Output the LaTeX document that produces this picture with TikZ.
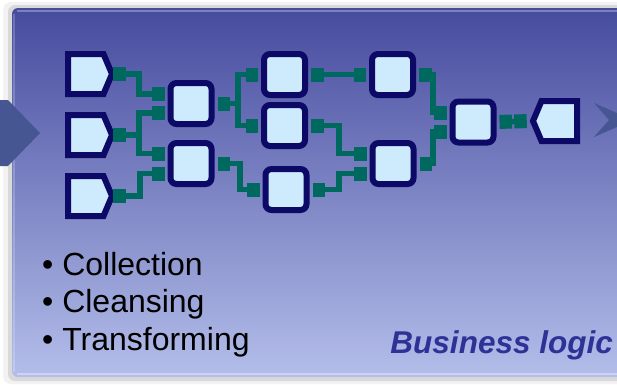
\documentclass[tikz,border=0pt]{standalone}
\usepackage{fontspec}
\setmainfont{Liberation Sans}
\usepackage{xcolor}
\usetikzlibrary{arrows.meta,shapes.symbols,positioning}
\definecolor{navy}{RGB}{12,10,102}
\definecolor{cellfill}{RGB}{205,235,252}
\definecolor{wiregreen}{RGB}{0,105,95}
\definecolor{paneltop}{RGB}{70,75,158}
\definecolor{panelmid}{RGB}{118,126,192}
\definecolor{panelbot}{RGB}{180,190,234}
\definecolor{chevron}{RGB}{70,86,146}
\definecolor{logicblue}{RGB}{46,50,150}

\begin{document}
\begin{tikzpicture}[x=1pt,y=-1pt,node distance=61pt,
  cell/.style={draw=navy,fill=cellfill,line width=6pt,rounded corners=6pt,
    minimum width=41pt,minimum height=41pt,inner sep=0pt},
  port/.style={signal,draw=navy,fill=cellfill,line width=6pt,signal pointer angle=134,
    minimum width=44pt,minimum height=40pt,inner sep=0pt},
  source/.style={port,signal to=east},
  sink/.style={port,signal to=west},
  wire/.style={draw=wiregreen,line width=5.5pt,
    {Square[length=12.5pt,width=14pt]}-{Square[length=12.5pt,width=14pt]},
    shorten <=3pt,shorten >=3pt},
  feed/.style={wire,shorten <=-2pt},
  bullet/.style={anchor=base west,inner sep=0pt,font=\fontsize{32}{38}\selectfont}]

  \clip (0,0) rectangle (617,384);
  \fill[white] (0,0) rectangle (617,384);
  \fill[gray!10,rounded corners=8pt] (3,2) rectangle (650,384);
  \fill[gray!30,rounded corners=7pt] (8,5) rectangle (650,381);
  \shade[top color=paneltop,middle color=panelmid,bottom color=panelbot,rounded corners=6pt]
    (12,8) rectangle (650,377);
  \draw[white,opacity=.3,line width=2pt] (17,11) -- (650,11);
  \draw[white,opacity=.2,line width=2pt] (14,14) -- (14,372);
  \draw[white,opacity=.35,line width=2pt] (17,374) -- (650,374);

  \fill[chevron] (0,100) -- (8,100) -- (40,133) -- (8,166) -- (0,166) -- cycle;
  \fill[chevron] (594,103) -- (633,120) -- (594,137) -- (609,120) -- cycle;

  \node[source,anchor=west] (in1) at (65,74) {};
  \node[source]             (in2) [below of=in1] {};
  \node[source]             (in3) [below of=in2] {};

  \node[cell] (b1) at (191,103.5) {};
  \node[cell] (b2) [below of=b1,node distance=60pt] {};
  \node[cell] (b3) at (284.5,74.5) {};
  \node[cell] (b4) [below of=b3,node distance=51pt] {};
  \node[cell] (b5) at (286,189.5) {};
  \node[cell] (b6) [right of=b3,node distance=108pt] {};
  \node[cell] (b7) at (393,163.5) {};
  \node[cell] (b8) at (473,122) {};
  \node[sink,anchor=east] (out) at (580,121) {};

  \draw[feed] (in1.east) -- (139,0 |- in1.east) |- ([yshift=9.5pt]b1.west);
  \draw[feed] (in2.east) -- (139,0 |- in2.east) |- ([yshift=-9.5pt]b1.west);
  \draw[feed] (in2.east) -- (139,0 |- in2.east) |- ([yshift=10pt]b2.west);
  \draw[feed] (in3.east) -- (140,0 |- in3.east) |- ([yshift=-10pt]b2.west);
  \draw[wire] (b1.east) -- (238,0 |- b1.east) |- (b3.west);
  \draw[wire] (b1.east) -- (238,0 |- b1.east) |- (b4.west);
  \draw[wire] (b2.east) -- (240,0 |- b2.east) |- (b5.west);
  \draw[wire] (b3.east) -- (b6.west);
  \draw[wire] (b4.east) -- (339,0 |- b4.east) |- ([yshift=10pt]b7.west);
  \draw[wire] (b5.east) -- (339,0 |- b5.east) |- ([yshift=-10pt]b7.west);
  \draw[wire] (b6.east) -- (433,0 |- b6.east) |- ([yshift=9.5pt]b8.west);
  \draw[wire] (b7.east) -- (433,0 |- b7.east) |- ([yshift=-9.5pt]b8.west);
  \draw[wire] (b8.east) -- (out.west);

  \node[bullet] (col) at (42,275) {• Collection};
  \node[bullet] (cle) at (42,312) {• Cleansing};
  \node[bullet] (tra) at (42,350) {• Transforming};
  \node[anchor=base east,inner sep=0pt,text=logicblue,
    font=\fontsize{31.5}{38}\selectfont\bfseries\itshape] (logic) at (613,353) {Business logic};
\end{tikzpicture}
\end{document}
